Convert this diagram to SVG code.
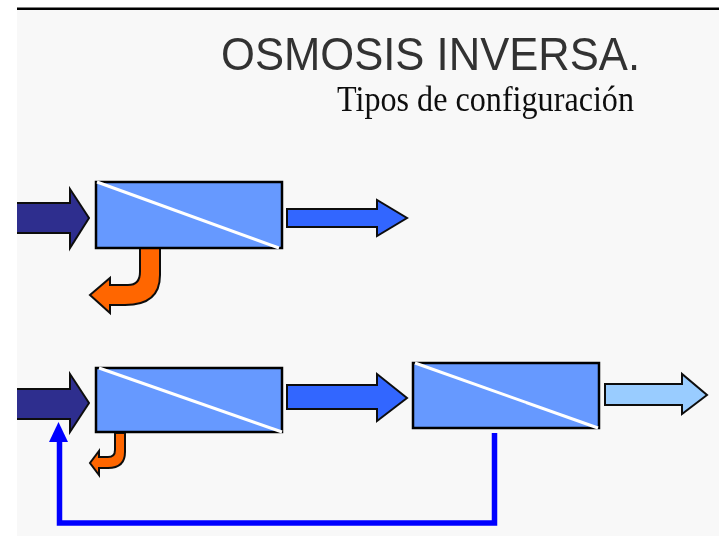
<svg xmlns="http://www.w3.org/2000/svg" width="719" height="536" viewBox="0 0 719 536">
<style>
.box{fill:#6699ff;stroke:#000;stroke-width:2.5}
.mem{stroke:#fff;stroke-width:3;fill:none}
.arw{stroke:#111;stroke-width:2;stroke-linejoin:miter}
.t1{font-family:"Liberation Sans",Arial,sans-serif;font-size:46px;fill:#333}
.t2{font-family:"Liberation Serif","Times New Roman",serif;font-size:35px;fill:#111}
.pipe{fill:none;stroke:#0000ff;stroke-width:5.500}
</style>
<defs>
<filter id="soft" x="-5%" y="-5%" width="110%" height="110%"><feGaussianBlur stdDeviation="0.7"/></filter>
<clipPath id="marco"><rect x="17" y="0" width="702" height="536"/></clipPath>
</defs>
<rect width="719" height="536" fill="#fff"/>
<rect x="17" y="10" width="702" height="526" fill="#f8f8f8"/>
<g filter="url(#soft)">
<rect x="17" y="7.5" width="702" height="2.5" fill="#000"/>
<g id="titulo">
<text class="t1" x="221" y="69.500" textLength="419" lengthAdjust="spacingAndGlyphs">OSMOSIS INVERSA.</text>
<text class="t2" x="337" y="111" textLength="297" lengthAdjust="spacingAndGlyphs">Tipos de configuración</text>
</g>
<g id="conectores">
<g clip-path="url(#marco)">
<polygon id="alim1" class="arw" fill="#2e2e8e" points="10,203 70,203 70,189 89,218 70,248 70,233 10,233"/>
<polygon id="alim2" class="arw" fill="#2e2e8e" points="10,389 70,389 70,374 89,403 70,432 70,419 10,419"/>
</g>
<polygon id="perm1" class="arw" fill="#3366ff" points="287,209 377,209 377,200 407,218 377,236 377,227 287,227"/>
<path id="rech1" class="arw" fill="#ff6600" d="M140,248 L160,248 L160,275 Q160,305 125,305 L110,305 L110,313 L90,295 L110,278 L110,285 L128,285 Q140,285 140,272 Z"/>
<polygon id="perm2" class="arw" fill="#3366ff" points="287,385 377,385 377,374 407,398 377,421 377,409 287,409"/>
<polygon id="perm3" class="arw" fill="#99ccff" points="605,384 682,384 682,374 707,395 682,414 682,405 605,405"/>
<path id="rech2" class="arw" fill="#ff6600" d="M115,433 L125,433 L125,452 Q125,468 108,468 L99,468 L99,475 L90,463 L99,451 L99,457 L108,457 Q115,457 115,450 Z"/>
<path id="recirc" class="pipe" d="M494.500,433 L494.500,523 L59.500,523 L59.500,440"/>
<polygon id="recirc-punta" fill="#0000ff" points="58.500,422 49,442 68,442"/>
</g>
<g id="modulo1">
<rect class="box" x="96" y="182" width="186" height="66"/>
<line class="mem" x1="97" y1="182" x2="279" y2="248"/>
</g>
<g id="modulo2">
<rect class="box" x="96" y="368" width="186" height="64"/>
<line class="mem" x1="99" y1="368" x2="282" y2="432"/>
</g>
<g id="modulo3">
<rect class="box" x="413" y="363" width="186" height="65"/>
<line class="mem" x1="415" y1="363" x2="598" y2="428"/>
</g>
</g>
</svg>
